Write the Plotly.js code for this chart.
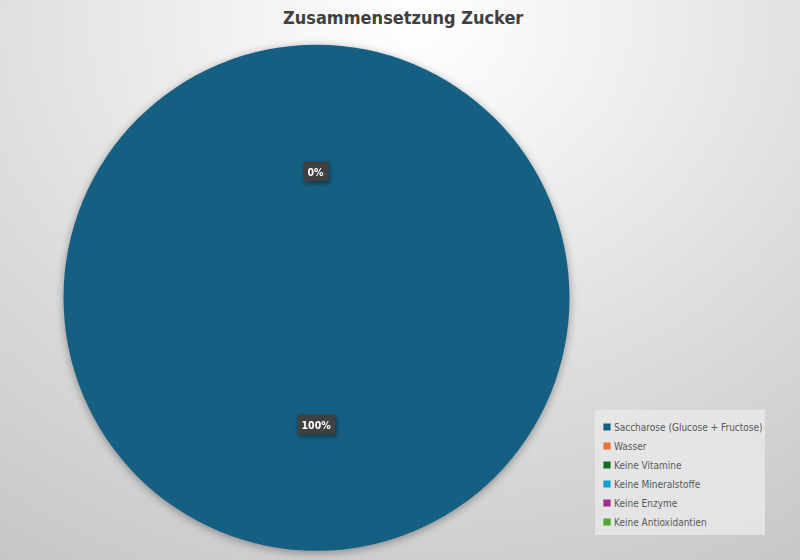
<!DOCTYPE html>
<html>
<head>
<meta charset="utf-8">
<script src="https://cdn.plot.ly/plotly-3.0.1.min.js"></script>
<style>
  html, body { margin: 0; padding: 0; }
  body {
    width: 800px; height: 560px; overflow: hidden;
    background: radial-gradient(ellipse 95% 115% at 52% 4%, #ffffff 0%, #f1f1f1 25%, #dcdcdc 60%, #c6c6c6 100%);
  }
  #chart { width: 800px; height: 560px; }
  .pielayer { filter: drop-shadow(0px 2px 4px rgba(0,0,0,0.35)); }
  .legendpoints path.legendpie { transform: translate(33px, 0px) scale(0.6); }
  .annotation-text-g { filter: drop-shadow(1px 2px 2px rgba(0,0,0,0.45)); }
</style>
</head>
<body>
<div id="chart"></div>
<script>
// ---- data ----
const title = "Zusammensetzung Zucker";
const categories = [
  "Saccharose (Glucose + Fructose)",
  "Wasser",
  "Keine Vitamine",
  "Keine Mineralstoffe",
  "Keine Enzyme",
  "Keine Antioxidantien"
];
const values = [100, 0, 0, 0, 0, 0];
const colors = ["#156082", "#E97132", "#196B24", "#0F9ED5", "#A02B93", "#4EA72E"];

// ---- layout constants ----
const W = 800, H = 560;
const FONT = "Liberation Sans Narrow, DejaVu Sans Condensed, sans-serif";
const domX = [63.5 / W, 569.5 / W];
const domY = [1 - 551 / H, 1 - 44.5 / H];

// data labels placed Excel-style at half radius along each slice's mid-angle
const total = values.reduce((a, b) => a + b, 0);
const cx = (domX[0] + domX[1]) / 2, cy = (domY[0] + domY[1]) / 2;
const rPx = Math.min((domX[1] - domX[0]) * W, (domY[1] - domY[0]) * H) / 2;
const annotations = [];
const seen = new Set();
let cum = 0;
values.forEach((v, i) => {
  const mid = (cum + v / 2) / total;
  cum += v;
  const ang = 2 * Math.PI * mid;
  const x = cx + 0.5 * rPx * Math.sin(ang) / W;
  const y = cy + 0.5 * rPx * Math.cos(ang) / H;
  const txt = Math.round(100 * v / total) + "%";
  const key = txt + "|" + x.toFixed(4) + "|" + y.toFixed(4);
  if (seen.has(key)) return;
  seen.add(key);
  annotations.push({
    x: x, y: y, xref: "paper", yref: "paper",
    xanchor: "center", yanchor: "middle",
    text: "<b>" + txt + "</b>", showarrow: false,
    font: { family: FONT, size: 10.5, color: "#ffffff" },
    bgcolor: "#404040", borderpad: 3.5
  });
});

const trace = {
  type: "pie",
  labels: categories,
  values: values,
  marker: { colors: colors, line: { color: "#ffffff", width: 0 } },
  sort: false,
  direction: "clockwise",
  rotation: 0,
  textinfo: "none",
  hoverinfo: "label+percent",
  domain: { x: domX, y: domY }
};

const layout = {
  width: W, height: H,
  margin: { l: 0, r: 0, t: 0, b: 0 },
  paper_bgcolor: "rgba(0,0,0,0)",
  plot_bgcolor: "rgba(0,0,0,0)",
  title: {
    text: "<b>" + title + "</b>",
    x: 0.504, xanchor: "center",
    y: 1 - 18 / H, yanchor: "middle",
    font: { family: FONT, size: 18, color: "#404040" }
  },
  showlegend: true,
  legend: {
    x: 574 / W, xanchor: "left",
    y: 1 - 412.5 / H, yanchor: "top",
    bgcolor: "rgba(0,0,0,0)",
    borderwidth: 0,
    font: { family: FONT, size: 10, color: "#595959" },
    itemwidth: 30,
    traceorder: "normal"
  },
  shapes: [{
    type: "rect", xref: "paper", yref: "paper", layer: "below",
    x0: 595 / W, x1: 765 / W, y0: 1 - 535 / H, y1: 1 - 410 / H,
    fillcolor: "rgba(232,232,232,0.85)", line: { width: 0 }
  }],
  annotations: annotations
};

Plotly.newPlot("chart", [trace], layout, { displayModeBar: false, staticPlot: true });
</script>
</body>
</html>
